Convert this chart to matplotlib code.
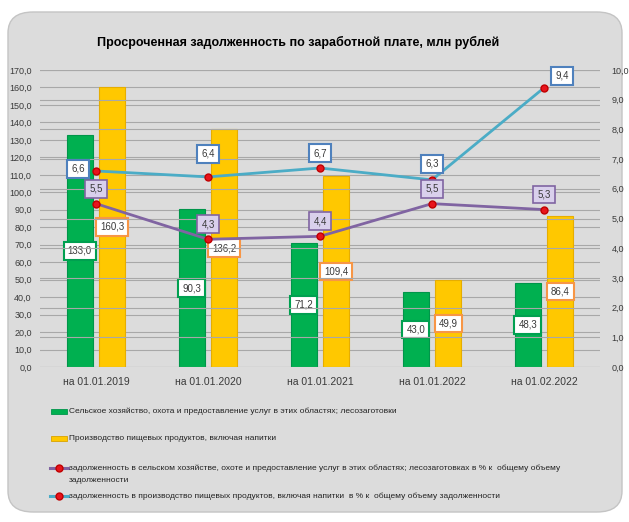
import matplotlib
matplotlib.use("Agg")
import matplotlib.pyplot as plt
from matplotlib.patches import FancyBboxPatch, Rectangle
from matplotlib.lines import Line2D
import numpy as np

categories = ["на 01.01.2019", "на 01.01.2020", "на 01.01.2021", "на 01.01.2022", "на 01.02.2022"]
agri = [133.0, 90.3, 71.2, 43.0, 48.3]
food = [160.3, 136.2, 109.4, 49.9, 86.4]
agri_pct = [5.5, 4.3, 4.4, 5.5, 5.3]
food_pct = [6.6, 6.4, 6.7, 6.3, 9.4]

legend_labels = [
    ["Сельское хозяйство, охота и предоставление услуг в этих областях; лесозаготовки"],
    ["Производство пищевых продуктов, включая напитки"],
    ["задолженность в сельском хозяйстве, охоте и предоставление услуг в этих областях; лесозаготовках в % к  общему объему",
     "задолженности"],
    ["задолженность в производство пищевых продуктов, включая напитки  в % к  общему объему задолженности"],
]
title = "Просроченная задолженность по заработной плате, млн рублей"

FONT = ["Liberation Sans", "DejaVu Sans"]
plt.rcParams['font.family'] = FONT
TXT = "#3a3a3a"

def fmt(v):
    return f"{v:.1f}".replace(".", ",")

W, H = 629, 522
fig = plt.figure(figsize=(W / 100, H / 100), dpi=100)
fig.patch.set_facecolor("white")

panel = FancyBboxPatch((8 / W, 10 / H), 614 / W, 500 / H,
                       boxstyle="round,pad=0,rounding_size=0.04",
                       transform=fig.transFigure, facecolor="#dcdcdc",
                       edgecolor="#c4c4c4", linewidth=1.0, zorder=-5)
fig.patches.append(panel)

ax = fig.add_axes([40 / W, 1 - 367 / H, 560 / W, 297 / H])
ax.set_facecolor("none")
ax2 = ax.twinx()
ax.set_zorder(1)
ax2.set_zorder(2)

x = np.arange(len(categories))
bw = 0.23
ax.bar(x - 0.145, agri, bw, color="#00b050", edgecolor="#00954a", linewidth=0.8, zorder=3)
ax.bar(x + 0.145, food, bw, color="#ffc800", edgecolor="#e6ad00", linewidth=0.8, zorder=3)

ax.set_ylim(0, 170)
ax.set_yticks(np.arange(0, 171, 10))
ax.set_yticklabels([fmt(v) for v in np.arange(0, 171, 10)], fontsize=6.5, color=TXT)
ax.set_xlim(-0.5, 4.5)
ax.set_xticks(x)
ax.set_xticklabels(categories, fontsize=7.5, color=TXT)
ax.tick_params(axis="y", length=0, pad=6)
ax.tick_params(axis="x", length=0, pad=7)
ax.grid(axis="y", color="#a8a8a8", linewidth=0.8, zorder=0)
ax.set_axisbelow(True)
for s in ax.spines.values():
    s.set_visible(False)

ax2.set_ylim(0, 10)
ax2.set_yticks(np.arange(0, 11, 1))
ax2.set_yticklabels([fmt(v) for v in np.arange(0, 11, 1)], fontsize=6.5, color=TXT)
ax2.tick_params(axis="y", length=0, pad=8.5)
ax2.grid(axis="y", color="#a8a8a8", linewidth=0.8, zorder=0)
for s in ax2.spines.values():
    s.set_visible(False)

ax2.plot(x, agri_pct, color="#8064a2", linewidth=2, marker="o", markersize=5,
         markerfacecolor="#e8141c", markeredgecolor="#c00000", zorder=5)
ax2.plot(x, food_pct, color="#4bacc6", linewidth=2, marker="o", markersize=5,
         markerfacecolor="#e8141c", markeredgecolor="#c00000", zorder=5)

k = 72 / 100
for i in range(len(categories)):
    ax.text(x[i] - 0.145, agri[i] / 2, fmt(agri[i]), ha="center", va="center", fontsize=7, color=TXT,
            bbox=dict(boxstyle="square,pad=0.4", fc="white", ec="#00a050", lw=1.5), zorder=6)
    ax.text(x[i] + 0.145, food[i] / 2, fmt(food[i]), ha="center", va="center", fontsize=7, color=TXT,
            bbox=dict(boxstyle="square,pad=0.4", fc="white", ec="#f79646", lw=1.5), zorder=6)

food_off = [(-18, 2), (0, 23), (0, 15), (0, 16), (18, 12)]
for i in range(len(categories)):
    ax2.annotate(fmt(food_pct[i]), (x[i], food_pct[i]), xytext=(food_off[i][0] * k, food_off[i][1] * k),
                 textcoords="offset points", ha="center", va="center", fontsize=7, zorder=7, color=TXT,
                 bbox=dict(boxstyle="square,pad=0.4", fc="white", ec="#4f81bd", lw=1.5))
    ax2.annotate(fmt(agri_pct[i]), (x[i], agri_pct[i]), xytext=(0, 15 * k),
                 textcoords="offset points", ha="center", va="center", fontsize=7, zorder=7, color=TXT,
                 bbox=dict(boxstyle="square,pad=0.4", fc="#d9d0ec", ec="#8064a2", lw=1.2))

fig.text(298 / W, 1 - 42 / H, title, ha="center", va="center", fontsize=9, fontweight="bold")

ys = [411, 438, 468, 496]
for j, (lines, yy) in enumerate(zip(legend_labels, ys)):
    yf = 1 - yy / H
    if j < 2:
        col = "#00b050" if j == 0 else "#ffc800"
        ec = "#00954a" if j == 0 else "#d9a300"
        fig.patches.append(Rectangle((51 / W, yf - 2.5 / H), 16 / W, 5 / H, transform=fig.transFigure,
                                     fc=col, ec=ec, lw=0.6, zorder=3))
    else:
        col = "#8064a2" if j == 2 else "#4bacc6"
        fig.add_artist(Line2D([50 / W, 68 / W], [yf, yf], transform=fig.transFigure, color=col, lw=2.2))
        fig.add_artist(Line2D([59 / W], [yf], transform=fig.transFigure, marker="o", markersize=5,
                              markerfacecolor="#e8141c", markeredgecolor="#c00000"))
    for m, ln in enumerate(lines):
        fig.text(69 / W, yf - m * 13 / H, ln, ha="left", va="center", fontsize=6, color="#222222")

fig.savefig("out.png", dpi=100)
